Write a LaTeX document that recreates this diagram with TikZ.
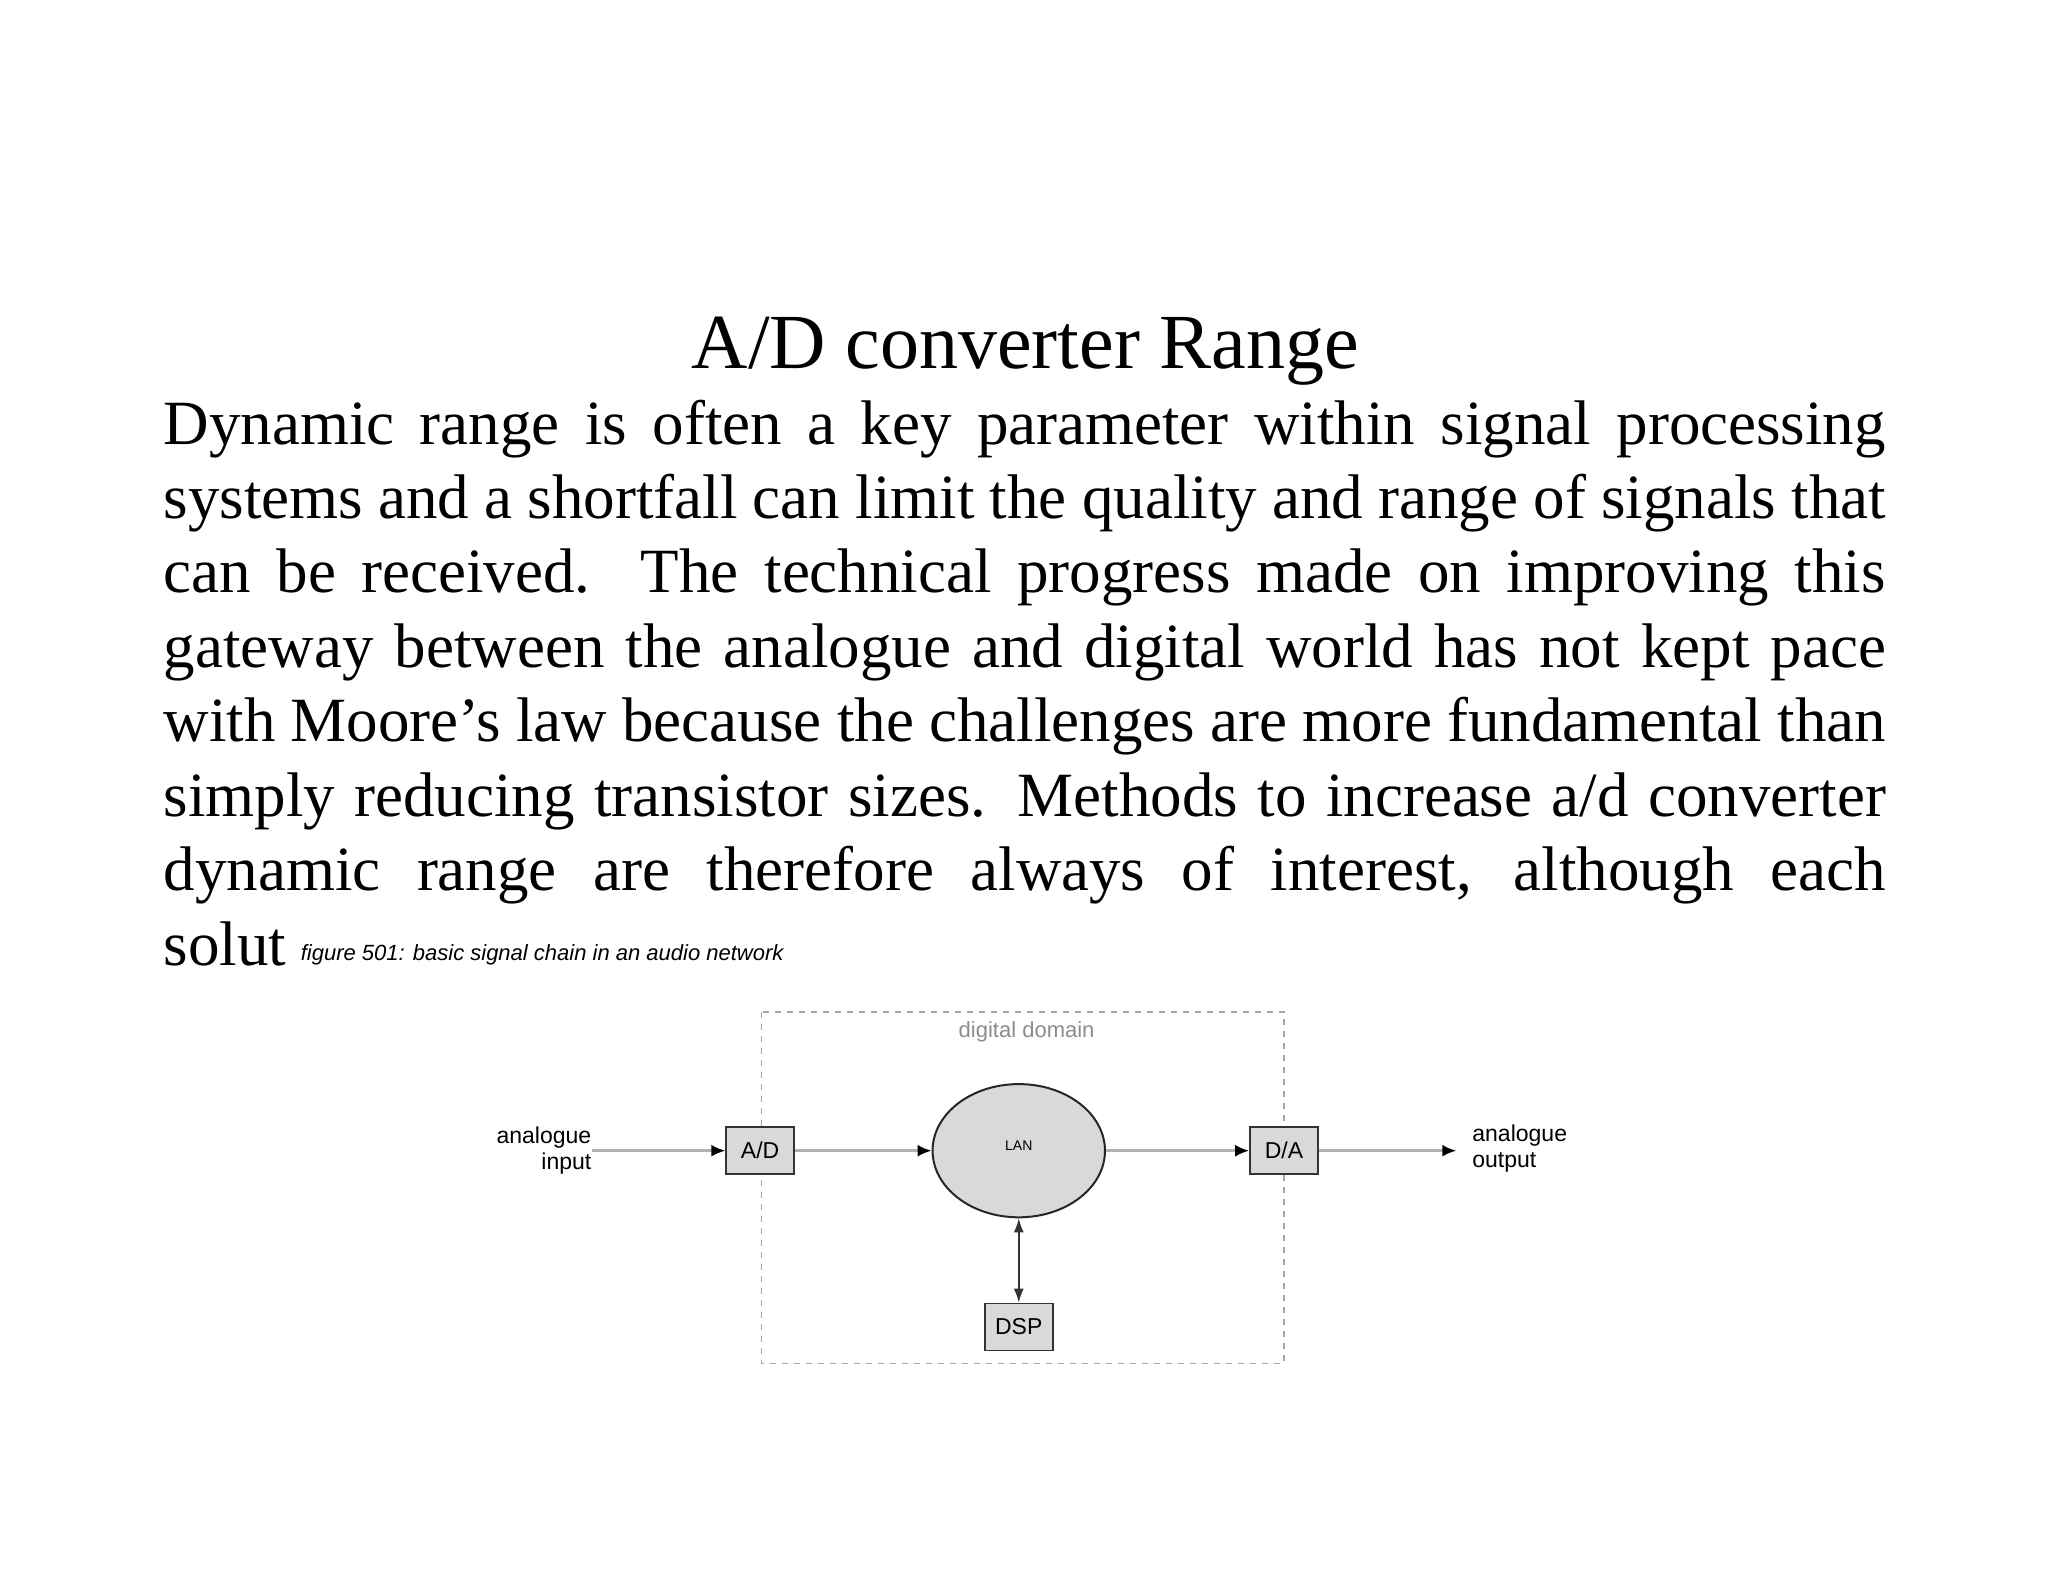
\documentclass[tikz,border=0pt]{standalone}
\usepackage{fontspec}
\setmainfont{Liberation Serif}
\newfontfamily\capsans{Liberation Sans}
\usetikzlibrary{arrows.meta,shapes.geometric}
\begin{document}
\begin{tikzpicture}[x=0.653pt,y=-0.653pt,
  bodyline/.style={anchor=base west,inner sep=0pt,text width=861pt,align=justify,font=\fontsize{31.5}{37}\selectfont},
  blk/.style={draw=black!80,fill=black!15,line width=0.8pt,minimum width=52*0.653pt,minimum height=36*0.653pt,inner sep=0pt,font=\capsans\fontsize{11.5}{12}\selectfont},
  lbl/.style={inner sep=0pt,font=\capsans\fontsize{11.5}{13}\selectfont},
  flow/.style={draw=black!30,line width=1.3pt,-{Latex[black,length=7pt,width=6pt]}}]
\useasboundingbox (0,0) rectangle (1568,1211);
\node[anchor=base,inner sep=0pt,font=\fontsize{39}{44}\selectfont] (title) at (785,282) {A/D converter Range};
\node[bodyline] (l1) at (125,340) {\parfillskip=0pt Dynamic range is often a key parameter within signal processing\par};
\node[bodyline] (l2) at (125,397) {\parfillskip=0pt systems and a shortfall can limit the quality and range of signals that\par};
\node[bodyline] (l3) at (125,454) {\parfillskip=0pt can be received. The technical progress made on improving this\par};
\node[bodyline] (l4) at (125,511) {\parfillskip=0pt gateway between the analogue and digital world has not kept pace\par};
\node[bodyline] (l5) at (125,568) {\parfillskip=0pt with Moore's law because the challenges are more fundamental than\par};
\node[bodyline] (l6) at (125,625) {\parfillskip=0pt simply reducing transistor sizes. Methods to increase a/d converter\par};
\node[bodyline] (l7) at (125,682) {\parfillskip=0pt dynamic range are therefore always of interest, although each\par};
\node[anchor=base west,inner sep=0pt,font=\fontsize{31.5}{37}\selectfont] (l8) at (125,739) {solut};
\node[anchor=west,inner sep=0pt,font=\capsans\itshape\fontsize{11}{12}\selectfont] (cap) at (230,731) {figure 501: basic signal chain in an audio network};
\draw[black!35,dashed,line width=0.8pt] (583,775) rectangle (983,1044);
\node[lbl,text=black!45,font=\capsans\fontsize{11}{12}\selectfont] (dd) at (786,790) {digital domain};
\node[blk] (ad) at (582,881) {A/D};
\node[blk] (da) at (983,881) {D/A};
\node[blk] (dsp) at (780,1016) {DSP};
\node[draw=black!85,fill=black!15,line width=1pt,ellipse,minimum width=132*0.653pt,minimum height=102*0.653pt,inner sep=0pt,font=\capsans\fontsize{7}{8}\selectfont] (lan) at (780,881) {\raisebox{5pt}{LAN}};
\node[lbl,align=right,anchor=east] (in) at (453,881) {analogue\\input};
\node[lbl,align=left,anchor=west] (out) at (1127,879) {analogue\\output};
\draw[flow] (in.east) -- (ad.west);
\draw[flow] (ad.east) -- (lan.west);
\draw[flow] (lan.east) -- (da.west);
\coordinate (oe) at (1115,881);
\draw[flow] (da.east) -- (oe);
\draw[black!80,line width=0.8pt,{Latex[length=7pt,width=5pt]}-{Latex[length=7pt,width=5pt]}] (lan.south) -- (dsp.north);
\end{tikzpicture}
\end{document}
